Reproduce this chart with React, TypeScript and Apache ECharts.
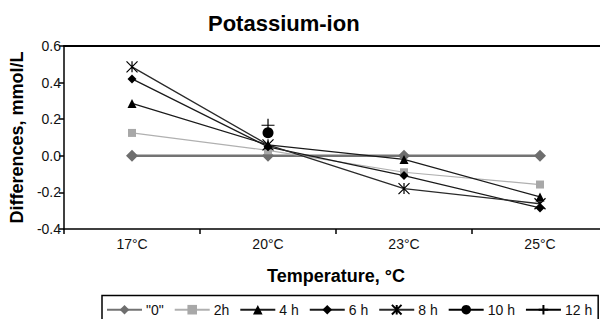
import React, { useEffect, useRef } from "react";
import * as echarts from "echarts";

const categories = ["17°C", "20°C", "23°C", "25°C"];
const yTicks = [-0.4, -0.2, 0.0, 0.2, 0.4, 0.6];
const seriesNames = ['"0"', "2h", "4 h", "6 h", "8 h", "10 h", "12 h"];
const s0 = [0, 0, 0, 0];
const s2h = [0.125, 0.03, -0.09, -0.157];
const s4h = [0.286, 0.06, -0.02, -0.225];
const s6h = [0.42, 0.049, -0.108, -0.285];
const s8h = [0.486, 0.06, -0.179, -0.262];
const s10h = [null, 0.126, null, null];
const s12h = [null, 0.167, null, null];

const FONT = "'Liberation Sans', Arial, sans-serif";
const STAR = "path://M0,0L10,10M10,0L0,10M5,0L5,10";
const PLUS = "path://M5,0L5,10M0,5L10,5";

export default function App() {
  const ref = useRef<HTMLDivElement>(null);
  useEffect(() => {
    if (!ref.current) return;
    const chart = echarts.init(ref.current, null, { renderer: "svg" });
    const mk = (name: string, data: any[], opts: any) => ({
      name,
      type: "line",
      data,
      symbol: opts.symbol,
      symbolSize: opts.size,
      showAllSymbol: true,
      connectNulls: false,
      lineStyle: { color: opts.line, width: opts.width },
      itemStyle: {
        color: opts.fill,
        borderColor: opts.border || opts.fill,
        borderWidth: opts.bw || 0,
      },
      emphasis: { disabled: true },
    });
    chart.setOption({
      animation: false,
      title: {
        text: "Potassium-ion",
        left: 203,
        top: 7,
        textStyle: { fontFamily: FONT, fontSize: 22, fontWeight: "bold", color: "#000" },
      },
      grid: {
        left: 62,
        right: 0,
        top: 46,
        bottom: 98,
        show: false,
      },
      legend: {
        left: 102,
        bottom: 3,
        padding: [7, 6, 7, 4],
        borderColor: "#000",
        borderWidth: 1.5,
        itemWidth: 35,
        itemHeight: 12,
        itemGap: 10,
        data: seriesNames,
        textStyle: { fontFamily: FONT, fontSize: 14, color: "#111", padding: [0, 0, 0, -1] },
      },
      xAxis: [
        {
          type: "category",
          data: categories,
          boundaryGap: true,
          name: "Temperature, °C",
          nameLocation: "middle",
          nameGap: 38,
          nameTextStyle: { fontFamily: FONT, fontSize: 18, fontWeight: "bold", color: "#000" },
          axisLine: { onZero: false, lineStyle: { color: "#000", width: 1.5 } },
          axisTick: { show: true, length: 5, inside: false, lineStyle: { color: "#000", width: 1.5 } },
          axisLabel: { fontFamily: FONT, fontSize: 14, color: "#111", margin: 8 },
          splitLine: { show: false },
        },
        {
          type: "category",
          data: categories,
          position: "top",
          boundaryGap: true,
          axisLine: { show: true, onZero: false, lineStyle: { color: "#000", width: 2 } },
          axisTick: { show: false },
          axisLabel: { show: false },
          splitLine: { show: false },
        },
      ],
      yAxis: {
        type: "value",
        min: yTicks[0],
        max: yTicks[yTicks.length - 1],
        interval: 0.2,
        name: "Differences, mmol/L",
        nameLocation: "middle",
        nameGap: 37,
        nameTextStyle: { fontFamily: FONT, fontSize: 18, fontWeight: "bold", color: "#000" },
        axisLine: { show: true, onZero: false, lineStyle: { color: "#000", width: 1.5 } },
        axisTick: { show: true, length: 5, lineStyle: { color: "#000", width: 1.5 } },
        axisLabel: {
          fontFamily: FONT,
          fontSize: 14,
          color: "#111",
          margin: 3,
          formatter: (v: number) => v.toFixed(1),
        },
        splitLine: {
          show: true,
          showMinLine: false,
          showMaxLine: true,
          lineStyle: {
            color: ["rgba(0,0,0,0)", "rgba(0,0,0,0)", "rgba(0,0,0,0)", "rgba(0,0,0,0)", "rgba(0,0,0,0)", "#000"],
            width: 2,
          },
        },
      },
      series: [
        mk(seriesNames[0], s0, { symbol: "diamond", size: 12, line: "#737373", width: 2.5, fill: "#6e6e6e" }),
        mk(seriesNames[1], s2h, { symbol: "rect", size: 8, line: "#b0b0b0", width: 1.2, fill: "#a8a8a8" }),
        mk(seriesNames[2], s4h, { symbol: "triangle", size: 9, line: "#1a1a1a", width: 1.3, fill: "#000" }),
        mk(seriesNames[3], s6h, { symbol: "diamond", size: 9, line: "#1a1a1a", width: 1.3, fill: "#000" }),
        mk(seriesNames[4], s8h, { symbol: STAR, size: 11, line: "#2a2a2a", width: 1.3, fill: "none", border: "#000", bw: 1.2 }),
        mk(seriesNames[5], s10h, { symbol: "circle", size: 11, line: "#000", width: 1.3, fill: "#000" }),
        mk(seriesNames[6], s12h, { symbol: PLUS, size: 13, line: "#000", width: 1.3, fill: "none", border: "#000", bw: 1.2 }),
      ],
    });
    return () => chart.dispose();
  }, []);
  return <div ref={ref} style={{ width: 608, height: 327, margin: -8 }} />;
}
